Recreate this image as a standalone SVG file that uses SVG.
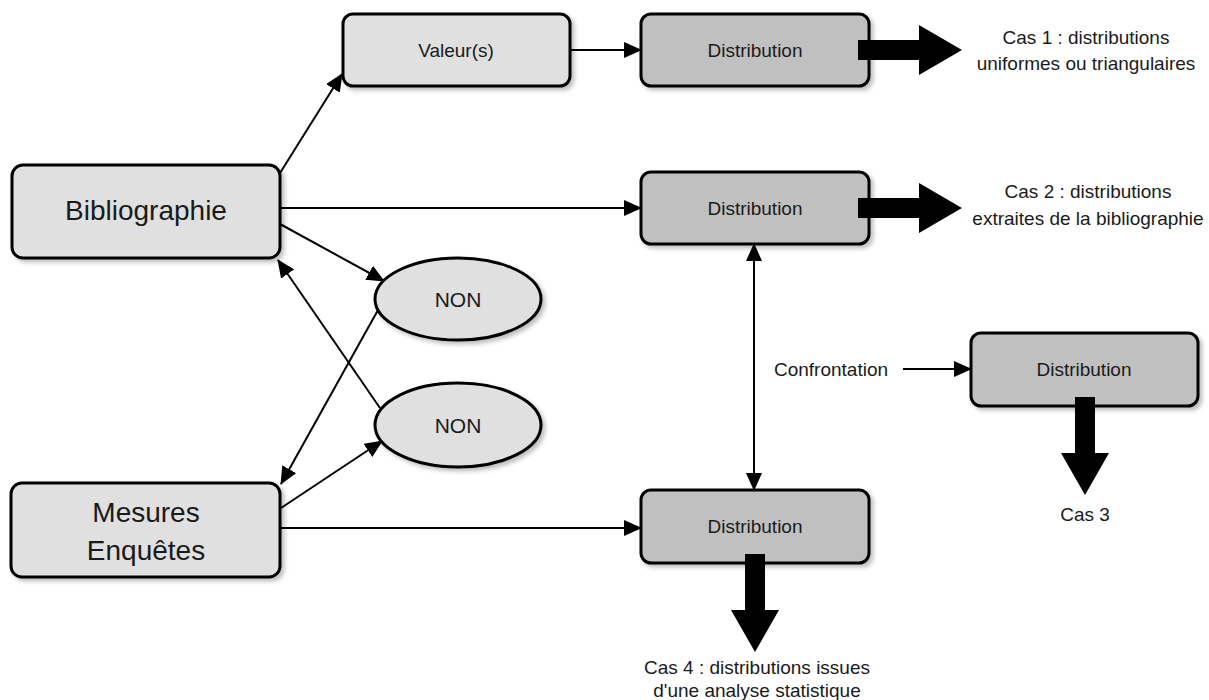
<svg xmlns="http://www.w3.org/2000/svg" width="1209" height="700" viewBox="0 0 1209 700">
<style>
.box{stroke:#000;stroke-width:3;filter:url(#sh)}
.light{fill:#e0e0e0}
.dark{fill:#c0c0c0}
.t{font-family:"Liberation Sans",Arial,sans-serif;fill:#1a1a1a;text-anchor:middle;dominant-baseline:central}
.s19{font-size:19px}
.s28{font-size:28px}
.s21{font-size:21px}
.c{stroke:#000;stroke-width:2;fill:none}
.big{fill:#000}
</style>
<defs>
<filter id="sh" x="-10%" y="-10%" width="130%" height="140%">
<feDropShadow dx="3" dy="3" stdDeviation="2" flood-color="#000" flood-opacity="0.25"/>
</filter>
<marker id="ah" markerUnits="userSpaceOnUse" markerWidth="18" markerHeight="16" viewBox="0 0 18 16" refX="17" refY="8" orient="auto-start-reverse">
<path d="M0,0 L18,8 L0,16 z" fill="#000"/>
</marker>
</defs>
<rect width="1209" height="700" fill="#fff"/>

<g id="connectors">
<line class="c" x1="280" y1="173" x2="342" y2="74" marker-end="url(#ah)"/>
<line class="c" x1="570" y1="50" x2="641" y2="50" marker-end="url(#ah)"/>
<line class="c" x1="280" y1="208" x2="641" y2="208" marker-end="url(#ah)"/>
<line class="c" x1="280" y1="224" x2="384" y2="281" marker-end="url(#ah)"/>
<line class="c" x1="380" y1="408" x2="278" y2="260" marker-end="url(#ah)"/>
<line class="c" x1="378" y1="310" x2="281" y2="484" marker-end="url(#ah)"/>
<line class="c" x1="281" y1="508" x2="382" y2="441" marker-end="url(#ah)"/>
<line class="c" x1="281" y1="528" x2="641" y2="528" marker-end="url(#ah)"/>
<line class="c" x1="754" y1="244" x2="754" y2="490" marker-start="url(#ah)" marker-end="url(#ah)"/>
<line class="c" x1="903" y1="369" x2="971" y2="369" marker-end="url(#ah)"/>
</g>

<g id="valeurs">
<rect class="box light" x="343" y="14" width="227" height="72" rx="10"/>
<text class="t s19" x="456" y="50">Valeur(s)</text>
</g>
<g id="distribution1">
<rect class="box dark" x="641" y="14" width="228" height="72" rx="10"/>
<text class="t s19" x="755" y="50">Distribution</text>
</g>
<g id="bibliographie">
<rect class="box light" x="12" y="165" width="268" height="93" rx="11"/>
<text class="t s28" x="146" y="210">Bibliographie</text>
</g>
<g id="distribution2">
<rect class="box dark" x="641" y="172" width="228" height="72" rx="10"/>
<text class="t s19" x="755" y="208">Distribution</text>
</g>
<g id="non1">
<ellipse class="box light" cx="458" cy="299" rx="83" ry="41"/>
<text class="t s21" x="458" y="299">NON</text>
</g>
<g id="non2">
<ellipse class="box light" cx="458" cy="425" rx="83" ry="42"/>
<text class="t s21" x="458" y="425">NON</text>
</g>
<g id="confrontation">
<text class="t s19" x="831" y="369">Confrontation</text>
</g>
<g id="distribution3">
<rect class="box dark" x="971" y="333" width="227" height="73" rx="10"/>
<text class="t s19" x="1084" y="369">Distribution</text>
</g>
<g id="mesures">
<rect class="box light" x="11" y="483" width="269" height="94" rx="11"/>
<text class="t s28" x="146" y="512">Mesures</text>
<text class="t s28" x="146" y="550">Enquêtes</text>
</g>
<g id="distribution4">
<rect class="box dark" x="641" y="490" width="228" height="73" rx="10"/>
<text class="t s19" x="755" y="526">Distribution</text>
</g>

<g id="bigarrows">
<path class="big" d="M858,40 H919 V25 L962,50 L919,75 V60 H858 z"/>
<path class="big" d="M858,198 H919 V183 L962,208 L919,233 V218 H858 z"/>
<path class="big" d="M1075,397 V453 H1061 L1085,495 L1109,453 H1095 V397 z"/>
<path class="big" d="M745,554 V610 H731 L755,652 L779,610 H765 V554 z"/>
</g>

<g id="cas1">
<text class="t s19" x="1086" y="37">Cas 1 : distributions</text>
<text class="t s19" x="1086" y="63">uniformes ou triangulaires</text>
</g>
<g id="cas2">
<text class="t s19" x="1088" y="191">Cas 2 : distributions</text>
<text class="t s19" x="1088" y="218">extraites de la bibliographie</text>
</g>
<g id="cas3">
<text class="t s19" x="1085" y="514">Cas 3</text>
</g>
<g id="cas4">
<text class="t s19" x="757" y="667">Cas 4 : distributions issues</text>
<text class="t s19" x="757" y="690">d'une analyse statistique</text>
</g>
</svg>
